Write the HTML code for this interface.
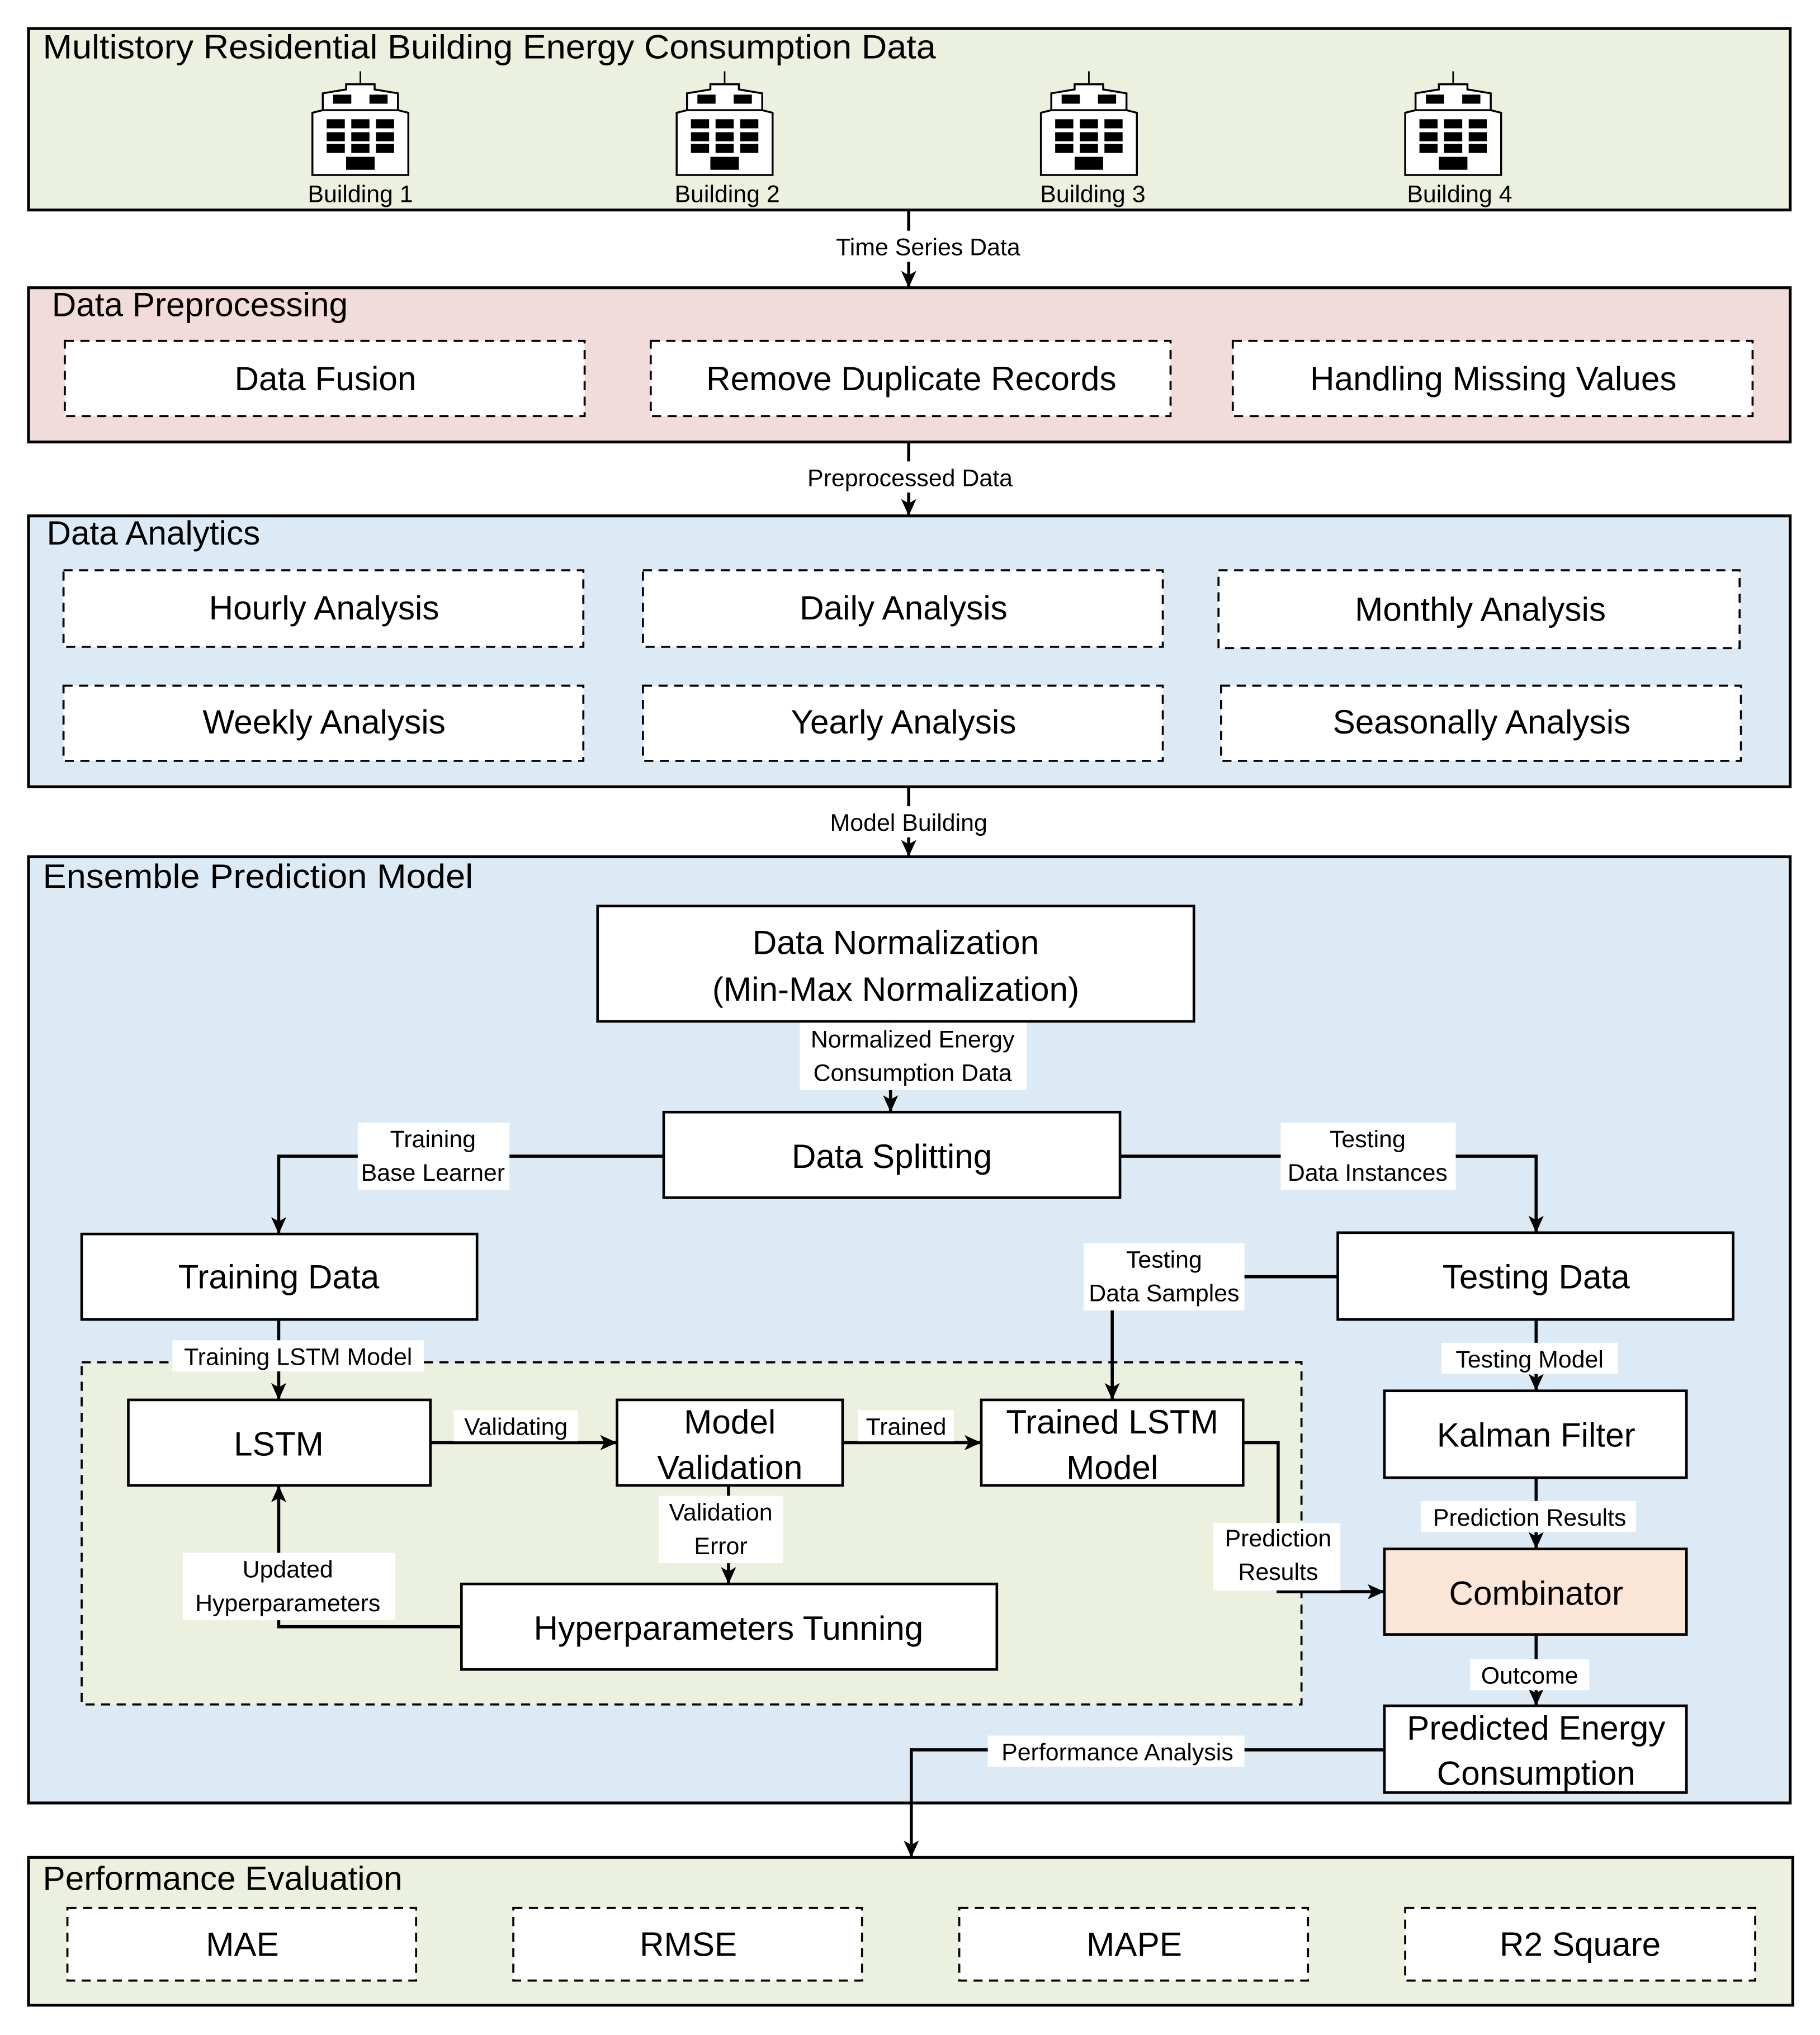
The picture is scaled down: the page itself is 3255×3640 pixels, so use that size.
<!DOCTYPE html>
<html><head><meta charset="utf-8"><style>
html,body{margin:0;padding:0;background:#fff}
svg{display:block}
text{font-family:"Liberation Sans",sans-serif;fill:#000}
</style></head><body>
<svg width="3255" height="3640" viewBox="0 0 1404 1570" preserveAspectRatio="none" xmlns="http://www.w3.org/2000/svg">
<defs>
<marker id="a" viewBox="0 0 10 10" refX="10" refY="5" markerWidth="13" markerHeight="13" orient="auto" markerUnits="userSpaceOnUse">
<path d="M0,0.5 L10,5 L0,9.5 L2.5,5 z" fill="#000"/>
</marker>
<g id="bld">
<line x1="37" y1="0" x2="37" y2="10" stroke="#000" stroke-width="1.2"/>
<path d="M26,10 H48 V14 L66,17 V31 H8 V17 L26,14 Z" fill="#fff" stroke="#000" stroke-width="1.5"/>
<path d="M0,32 L8,30 H66 L74,32 V80 H0 Z" fill="#fff" stroke="#000" stroke-width="1.5"/>
<rect x="16" y="18" width="14" height="7"/><rect x="44" y="18" width="14" height="7"/>
<rect x="11" y="37" width="14" height="7"/><rect x="30" y="37" width="14" height="7"/><rect x="49" y="37" width="14" height="7"/>
<rect x="11" y="47" width="14" height="7"/><rect x="30" y="47" width="14" height="7"/><rect x="49" y="47" width="14" height="7"/>
<rect x="11" y="56" width="14" height="7"/><rect x="30" y="56" width="14" height="7"/><rect x="49" y="56" width="14" height="7"/>
<rect x="26" y="66" width="22" height="10"/>
</g>
</defs>
<g stroke="#000" stroke-width="2.2">
<rect x="22" y="22" width="1359" height="140" fill="#ebf1de"/>
<rect x="22" y="222" width="1359" height="119" fill="#f2dcdb"/>
<rect x="22" y="398" width="1359" height="209" fill="#dbeaf5"/>
<rect x="22" y="661" width="1359" height="730" fill="#dbeaf5"/>
<rect x="22" y="1433" width="1361" height="114" fill="#ebf1de"/>
</g>
<g stroke="#000" stroke-width="1.6" fill="#fff" stroke-dasharray="7,5">
<rect x="50" y="263" width="401" height="58"/><rect x="502" y="263" width="401" height="58"/><rect x="951" y="263" width="401" height="58"/>
<rect x="49" y="440" width="401" height="59"/><rect x="496" y="440" width="401" height="59"/><rect x="940" y="440" width="402" height="60"/>
<rect x="49" y="529" width="401" height="58"/><rect x="496" y="529" width="401" height="58"/><rect x="942" y="529" width="401" height="58"/>
<rect x="52" y="1472" width="269" height="56"/><rect x="396" y="1472" width="269" height="56"/><rect x="740" y="1472" width="269" height="56"/><rect x="1084" y="1472" width="270" height="56"/>
<rect x="63" y="1051" width="941" height="264" fill="#ebf1de"/>
</g>
<use href="#bld" x="241" y="55"/><use href="#bld" x="522" y="55"/><use href="#bld" x="803" y="55"/><use href="#bld" x="1084" y="55"/>
<g font-size="18.5" text-anchor="middle">
<text x="278" y="156">Building 1</text><text x="561" y="156">Building 2</text><text x="843" y="156">Building 3</text><text x="1126" y="156">Building 4</text>
</g>
<g font-size="26">
<text x="33" y="45" textLength="689" lengthAdjust="spacingAndGlyphs">Multistory Residential Building Energy Consumption Data</text>
<text x="40" y="244">Data Preprocessing</text>
<text x="36" y="420">Data Analytics</text>
<text x="33" y="685" textLength="332" lengthAdjust="spacingAndGlyphs">Ensemble Prediction Model</text>
<text x="33" y="1458">Performance Evaluation</text>
</g>
<g font-size="26" text-anchor="middle">
<text x="251" y="301">Data Fusion</text><text x="703" y="301">Remove Duplicate Records</text><text x="1152" y="301">Handling Missing Values</text>
<text x="250" y="478">Hourly Analysis</text><text x="697" y="478">Daily Analysis</text><text x="1142" y="479">Monthly Analysis</text>
<text x="250" y="566">Weekly Analysis</text><text x="697" y="566">Yearly Analysis</text><text x="1143" y="566">Seasonally Analysis</text>
<text x="187" y="1509">MAE</text><text x="531" y="1509">RMSE</text><text x="875" y="1509">MAPE</text><text x="1219" y="1509">R2 Square</text>
</g>
<g stroke="#000" stroke-width="2" fill="#fff">
<rect x="461" y="699" width="460" height="89"/>
<rect x="512" y="858" width="352" height="66"/>
<rect x="63" y="952" width="305" height="66"/>
<rect x="1032" y="951" width="305" height="67"/>
<rect x="99" y="1080" width="233" height="66"/>
<rect x="476" y="1080" width="174" height="66"/>
<rect x="757" y="1080" width="202" height="66"/>
<rect x="356" y="1222" width="413" height="66"/>
<rect x="1068" y="1073" width="233" height="67"/>
<rect x="1068" y="1195" width="233" height="66" fill="#fbe5d6"/>
<rect x="1068" y="1316" width="233" height="67"/>
</g>
<g stroke="#000" stroke-width="2.4" fill="none" marker-end="url(#a)">
<path d="M701,162 V222"/><path d="M701,341 V398"/><path d="M701,607 V661"/>
<path d="M687,788 V858"/>
<path d="M512,892 H215 V952"/>
<path d="M864,892 H1185 V951"/>
<path d="M215,1018 V1080"/>
<path d="M1032,985 H858 V1080"/>
<path d="M332,1113 H476"/>
<path d="M650,1113 H757"/>
<path d="M562,1146 V1222"/>
<path d="M356,1255 H215 V1146"/>
<path d="M959,1113 H986 V1228 H1068"/>
<path d="M1185,1018 V1073"/>
<path d="M1185,1140 V1195"/>
<path d="M1185,1261 V1316"/>
<path d="M1068,1350 H703 V1433"/>
</g>
<g fill="#fff">
<rect x="636" y="178" width="160" height="24"/>
<rect x="614" y="356" width="176" height="24"/>
<rect x="630" y="622" width="142" height="24"/>
<rect x="617" y="789" width="175" height="52"/>
<rect x="276" y="866" width="117" height="52"/>
<rect x="988" y="866" width="135" height="52"/>
<rect x="836" y="959" width="124" height="52"/>
<rect x="133" y="1034" width="194" height="24"/>
<rect x="350" y="1088" width="96" height="24"/>
<rect x="662" y="1088" width="74" height="24"/>
<rect x="508" y="1154" width="96" height="52"/>
<rect x="141" y="1198" width="164" height="52"/>
<rect x="936" y="1175" width="98" height="52"/>
<rect x="1112" y="1036" width="136" height="24"/>
<rect x="1096" y="1158" width="166" height="24"/>
<rect x="1134" y="1280" width="92" height="24"/>
<rect x="762" y="1339" width="198" height="24"/>
</g>
<g font-size="18.5" text-anchor="middle">
<text x="716" y="197">Time Series Data</text>
<text x="702" y="375">Preprocessed Data</text>
<text x="701" y="641">Model Building</text>
<text x="704" y="808">Normalized Energy</text><text x="704" y="834">Consumption Data</text>
<text x="334" y="885">Training</text><text x="334" y="911">Base Learner</text>
<text x="1055" y="885">Testing</text><text x="1055" y="911">Data Instances</text>
<text x="898" y="978">Testing</text><text x="898" y="1004">Data Samples</text>
<text x="230" y="1053">Training LSTM Model</text>
<text x="398" y="1107">Validating</text>
<text x="699" y="1107">Trained</text>
<text x="556" y="1173">Validation</text><text x="556" y="1199">Error</text>
<text x="222" y="1217">Updated</text><text x="222" y="1243">Hyperparameters</text>
<text x="986" y="1193">Prediction</text><text x="986" y="1219">Results</text>
<text x="1180" y="1055">Testing Model</text>
<text x="1180" y="1177">Prediction Results</text>
<text x="1180" y="1299">Outcome</text>
<text x="862" y="1358">Performance Analysis</text>
</g>
<g font-size="26" text-anchor="middle">
<text x="691" y="736">Data Normalization</text><text x="691" y="772">(Min-Max Normalization)</text>
<text x="688" y="901">Data Splitting</text>
<text x="215" y="994">Training Data</text>
<text x="1185" y="994">Testing Data</text>
<text x="215" y="1123">LSTM</text>
<text x="563" y="1106">Model</text><text x="563" y="1141">Validation</text>
<text x="858" y="1106">Trained LSTM</text><text x="858" y="1141">Model</text>
<text x="562" y="1265">Hyperparameters Tunning</text>
<text x="1185" y="1116">Kalman Filter</text>
<text x="1185" y="1238">Combinator</text>
<text x="1185" y="1342">Predicted Energy</text><text x="1185" y="1377">Consumption</text>
</g>
</svg>
</body></html>
